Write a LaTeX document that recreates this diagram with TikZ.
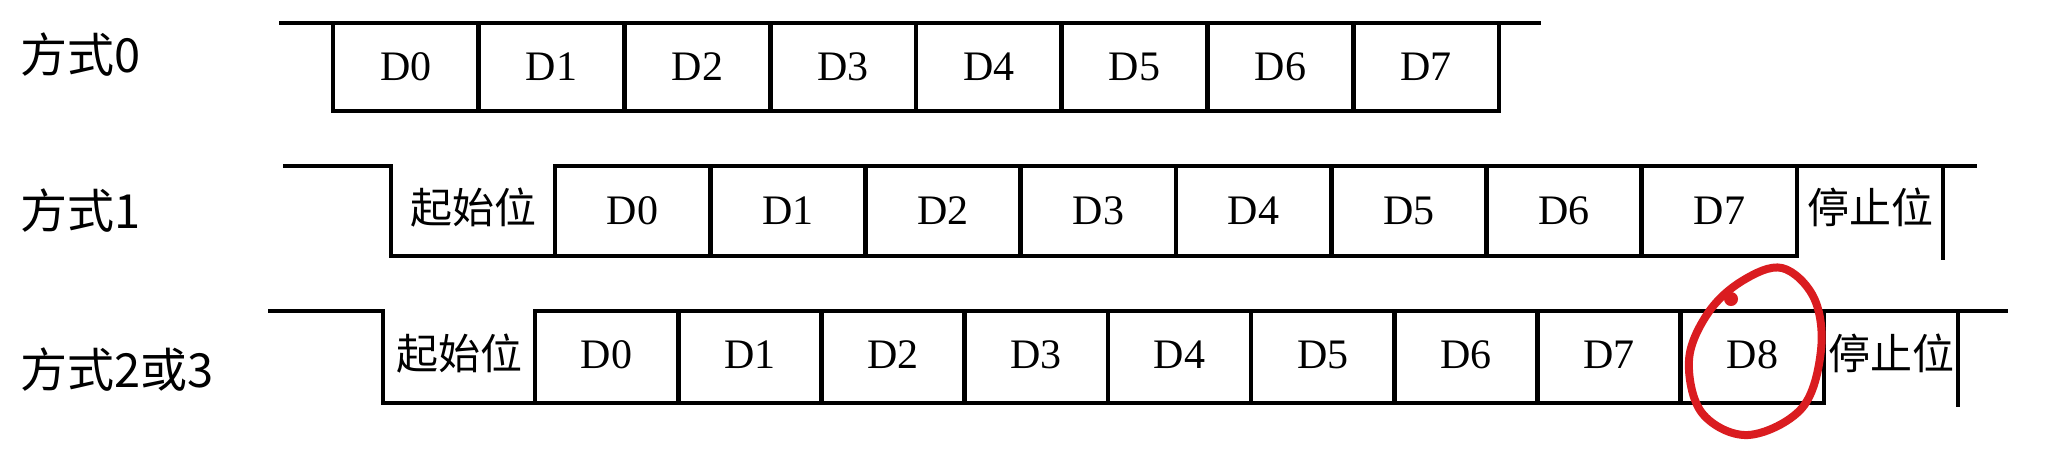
\documentclass[tikz,border=0pt]{standalone}
\usepackage{fontspec}
\setmainfont{Liberation Serif}
\newfontfamily\cjksans{Noto Sans CJK SC}
\definecolor{penred}{RGB}{218,28,32}
\begin{document}
\begin{tikzpicture}[x=0.5pt,y=-0.5pt,
  lab/.style={font={\cjksans\fontsize{23.5pt}{24pt}\selectfont}, anchor=west, inner sep=0pt},
  bit/.style={font={\fontsize{21pt}{21pt}\selectfont}, inner sep=0pt},
  cjkbit/.style={font={\cjksans\fontsize{21pt}{21pt}\selectfont}, inner sep=0pt},
  wave/.style={line width=2.3pt, line join=miter, line cap=rect},
  penmark/.style={draw=penred, line width=4pt, line join=round}]
\fill[white] (0,0) rectangle (2049,462);
\useasboundingbox (0,0) rectangle (2049,462);

% labels
\node[lab] (m0) at (20,55) {方式0};
\node[lab] (m1) at (20,211) {方式1};
\node[lab] (m2) at (20,370) {方式2或3};

% ---- row 0
\draw[wave] (281,23) -- (1539,23);
\draw[wave] (333,23) -- (333,111) -- (1499,111) -- (1499,23);
\foreach \i in {1,...,7}{
  \pgfmathsetmacro\dx{333+145.75*\i}
  \draw[wave] (\dx,23) -- (\dx,111);
}
\foreach \i in {0,...,7}{
  \pgfmathsetmacro\cx{333+145.75*(\i+0.5)}
  \node[bit] (a\i) at (\cx,67) {D\i};
}

% ---- row 1
\draw[wave] (285,166) -- (391,166) -- (391,256) -- (1797,256);
\draw[wave] (555,256) -- (555,166) -- (1975,166);
\foreach \i in {1,...,8}{
  \pgfmathsetmacro\dx{555+155.25*\i}
  \draw[wave] (\dx,166) -- (\dx,256);
}
\draw[wave] (1943,166) -- (1943,258);
\node[cjkbit] (b-start) at (473,208) {起始位};
\foreach \i in {0,...,7}{
  \pgfmathsetmacro\cx{555+155.25*(\i+0.5)}
  \node[bit] (b\i) at (\cx,211) {D\i};
}
\node[cjkbit] (b-stop) at (1870,207) {停止位};

% ---- row 2
\draw[wave] (270,311) -- (383,311) -- (383,403) -- (1824,403);
\draw[wave] (535,403) -- (535,311) -- (2006,311);
\foreach \i in {1,...,9}{
  \pgfmathsetmacro\dx{535+143.22*\i}
  \draw[wave] (\dx,311) -- (\dx,403);
}
\draw[wave] (1958,311) -- (1958,405);
\node[cjkbit] (c-start) at (459,354) {起始位};
\foreach \i in {0,...,8}{
  \pgfmathsetmacro\cx{535+143.22*(\i+0.5)}
  \node[bit] (c\i) at (\cx,355) {D\i};
}
\node[cjkbit] (c-stop) at (1891,353) {停止位};

% red hand-drawn mark
\draw[penmark] plot[smooth cycle, tension=0.6] coordinates {
  (1782,268) (1814,298) (1821,350) (1802,408) (1748,435)
  (1702,413) (1689,360) (1708,313) (1742,281)};
\fill[penred] (1731,299) circle [radius=7];
\end{tikzpicture}
\end{document}
